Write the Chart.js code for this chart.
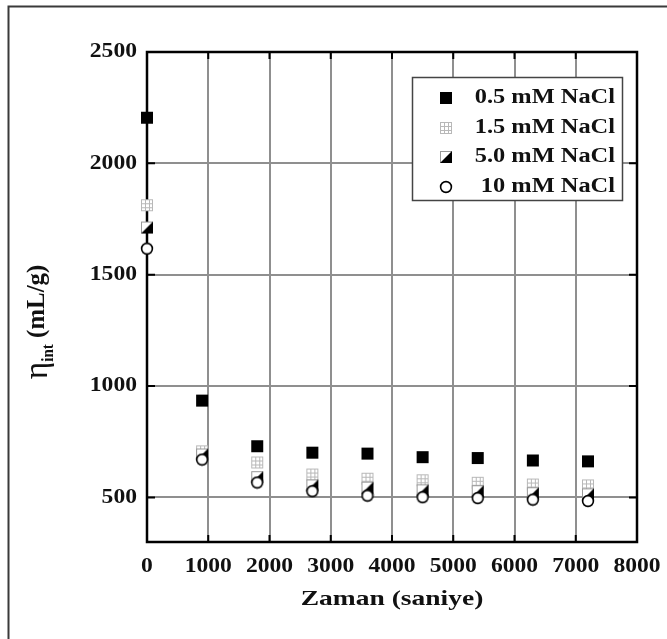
<!DOCTYPE html>
<html><head><meta charset="utf-8">
<script src="https://cdn.jsdelivr.net/npm/chart.js@4"></script>
<style>html,body{margin:0;padding:0;background:#fff;} #wrap{width:667px;height:639px;position:relative;}
.pre{font-family:"Liberation Serif";font-weight:bold;position:absolute;left:-999px;}</style>
</head><body><div id="wrap"><canvas id="c" width="667" height="639"></canvas></div>
<span class="pre">0.5 mM NaCl η</span><span class="pre" style="font-weight:normal">η</span>
<script>
// ---- data ----
const time = [0, 900, 1800, 2700, 3600, 4500, 5400, 6300, 7200];
const nacl05 = [2205, 935, 730, 701, 697, 681, 677, 666, 662];
const nacl15 = [1812, 707, 657, 603, 584, 577, 566, 558, 554];
const nacl50 = [1712, 693, 591, 554, 544, 532, 528, 519, 514];
const nacl10 = [1617, 670, 567, 528, 508, 501, 497, 490, 484];
const seriesNames = ['0.5 mM NaCl', '1.5 mM NaCl', '5.0 mM NaCl', '10 mM NaCl'];
const xTickValues = [0, 1000, 2000, 3000, 4000, 5000, 6000, 7000, 8000];
const yTickValues = [500, 1000, 1500, 2000, 2500];
const xTitle = 'Zaman (saniye)';
const yTitleMain = 'η', yTitleSub = 'int', yTitleRest = ' (mL/g)';

// ---- marker images ----
function marker(kind) {
  const s = 14, c = document.createElement('canvas');
  c.width = s; c.height = s;
  const g = c.getContext('2d');
  if (kind === 'square') {
    g.fillStyle = '#000'; g.fillRect(1, 1, 12, 12);
  } else if (kind === 'grid') {
    g.fillStyle = '#fff'; g.fillRect(1, 1, 12, 12);
    g.strokeStyle = '#b8b8b8'; g.lineWidth = 1;
    g.strokeRect(1.5, 1.5, 11, 11);
    g.beginPath();
    g.moveTo(5.5, 1.5); g.lineTo(5.5, 12.5);
    g.moveTo(9.5, 1.5); g.lineTo(9.5, 12.5);
    g.moveTo(1.5, 5.5); g.lineTo(12.5, 5.5);
    g.moveTo(1.5, 9.5); g.lineTo(12.5, 9.5);
    g.stroke();
  } else if (kind === 'half') {
    g.fillStyle = '#fff'; g.fillRect(1, 1, 12, 12);
    g.strokeStyle = '#999'; g.lineWidth = 1; g.strokeRect(1.5, 1.5, 11, 11);
    g.fillStyle = '#000'; g.beginPath();
    g.moveTo(13, 1); g.lineTo(13, 13); g.lineTo(1, 13); g.closePath(); g.fill();
  } else {
    g.fillStyle = '#fff'; g.strokeStyle = '#000'; g.lineWidth = 1.6;
    g.beginPath(); g.arc(7, 7, 5.4, 0, Math.PI * 2); g.fill(); g.stroke();
  }
  return c;
}
const markers = [marker('square'), marker('grid'), marker('half'), marker('circle')];
const seriesValues = [nacl05, nacl15, nacl50, nacl10];

const datasets = seriesValues.map((vals, i) => ({
  label: seriesNames[i],
  data: time.map((t, k) => ({ x: t, y: vals[k] })),
  pointStyle: markers[i],
  pointRadius: 7,
  showLine: false,
  clip: false,
  order: 3 - i
}));

const SERIF = '"Liberation Serif", "Times New Roman", Times, serif';
function stext(ctx, text, x, y, align, sx, font) {
  ctx.save();
  ctx.font = font;
  ctx.translate(x, y);
  ctx.scale(sx, 1);
  ctx.textAlign = align;
  ctx.textBaseline = 'middle';
  ctx.fillText(text, 0, 0);
  ctx.restore();
}

const deco = {
  id: 'deco',
  beforeDatasetsDraw(chart) {
    const { ctx, chartArea: a, scales: { x, y } } = chart;
    ctx.save();
    ctx.strokeStyle = '#000';
    ctx.lineWidth = 2;
    ctx.beginPath();
    xTickValues.forEach(v => {
      const px = x.getPixelForValue(v);
      ctx.moveTo(px, a.bottom); ctx.lineTo(px, a.bottom - 7);
      ctx.moveTo(px, a.top); ctx.lineTo(px, a.top + 7);
    });
    yTickValues.forEach(v => {
      const py = y.getPixelForValue(v);
      ctx.moveTo(a.left, py); ctx.lineTo(a.left + 8, py);
      ctx.moveTo(a.right, py); ctx.lineTo(a.right - 8, py);
    });
    ctx.stroke();
    ctx.lineWidth = 2.5;
    ctx.strokeRect(a.left, a.top, a.right - a.left, a.bottom - a.top);
    ctx.restore();
  },
  afterDraw(chart) {
    const { ctx, chartArea: a, scales: { x, y } } = chart;
    ctx.save();
    ctx.fillStyle = '#111';
    const tickFont = 'bold 20px ' + SERIF;
    yTickValues.forEach(v => stext(ctx, String(v), a.left - 10, y.getPixelForValue(v), 'right', 1.18, tickFont));
    xTickValues.forEach(v => stext(ctx, String(v), x.getPixelForValue(v), a.bottom + 25, 'center', 1.18, tickFont));
    // x title
    stext(ctx, xTitle, (a.left + a.right) / 2, a.bottom + 57, 'center', 1.25, 'bold 22px ' + SERIF);
    // y title (rotated)
    ctx.save();
    ctx.translate(38, 322);
    ctx.rotate(-Math.PI / 2);
    ctx.scale(1.08, 1.12);
    ctx.textBaseline = 'middle';
    ctx.textAlign = 'left';
    const f1 = '31px ' + SERIF, f2 = 'bold 14px ' + SERIF, f3 = 'bold 23px ' + SERIF;
    ctx.font = f1; const w1 = ctx.measureText(yTitleMain).width;
    ctx.font = f2; const w2 = ctx.measureText(yTitleSub).width;
    ctx.font = f3; const w3 = ctx.measureText(yTitleRest).width;
    let sx = -(w1 + w2 + w3) / 2;
    ctx.font = f1; ctx.fillText(yTitleMain, sx, 0); sx += w1;
    ctx.font = f2; ctx.fillText(yTitleSub, sx, 10); sx += w2;
    ctx.font = f3; ctx.fillText(yTitleRest, sx, -1);
    ctx.restore();
    // legend
    const lx = 412.5, ly = 77.5, lw = 210, lh = 123;
    ctx.fillStyle = '#fff';
    ctx.fillRect(lx, ly, lw, lh);
    ctx.strokeStyle = '#444'; ctx.lineWidth = 1.5;
    ctx.strokeRect(lx, ly, lw, lh);
    const rows = [98, 128, 157, 187];
    ctx.fillStyle = '#111';
    seriesNames.forEach((n, i) => {
      ctx.drawImage(markers[i], 446 - 7, rows[i] - 7);
      stext(ctx, n, 615, rows[i], 'right', 1.22, 'bold 20px ' + SERIF);
    });
    // outer frame (top/left only visible)
    ctx.strokeStyle = '#3a3a3a'; ctx.lineWidth = 2;
    ctx.beginPath();
    ctx.moveTo(8.5, 639); ctx.lineTo(8.5, 6.5); ctx.lineTo(667, 6.5);
    ctx.stroke();
    ctx.restore();
  }
};

function build() {
  new Chart(document.getElementById('c'), {
    type: 'scatter',
    data: { datasets },
    options: {
      responsive: false,
      animation: false,
      events: [],
      layout: { padding: { left: 0, top: 52, right: 30, bottom: 0 } },
      plugins: { legend: { display: false }, tooltip: { enabled: false } },
      scales: {
        x: {
          type: 'linear', min: 0, max: 8000,
          afterBuildTicks: s => { s.ticks = xTickValues.map(v => ({ value: v })); },
          afterFit: s => { s.height = 97; },
          ticks: { display: false },
          border: { display: false },
          grid: { color: '#8f8f8f', lineWidth: 2, drawTicks: false }
        },
        y: {
          type: 'linear', min: 300, max: 2500,
          afterBuildTicks: s => { s.ticks = yTickValues.map(v => ({ value: v })); },
          afterFit: s => { s.width = 147; },
          ticks: { display: false },
          border: { display: false },
          grid: { color: '#8f8f8f', lineWidth: 2, drawTicks: false }
        }
      }
    },
    plugins: [deco]
  });
}
Promise.all([
  document.fonts.load('bold 20px "Liberation Serif"'),
  document.fonts.load('28px "Liberation Serif"', 'η')
]).then(build, build);
</script>
</body></html>
